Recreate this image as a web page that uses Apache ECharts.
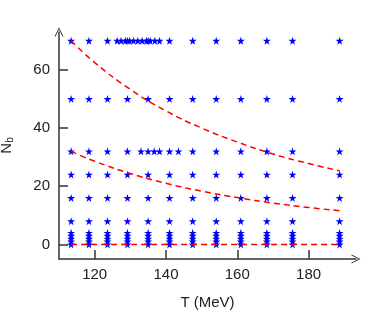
<!DOCTYPE html>
<html>
<head>
<meta charset="utf-8">
<script src="https://cdn.jsdelivr.net/npm/echarts@6/dist/echarts.min.js"></script>
<style>
  html, body { margin: 0; padding: 0; background: #fff; }
  #main { width: 382px; height: 323px; }
</style>
</head>
<body>
<div id="main"></div>
<script>
// temperatures of the regular grid (MeV)
var temps = [113.4, 118.4, 123.6, 129.2, 135.0, 141.0, 147.5, 154.1, 161.0, 168.3, 175.5, 188.7];
// N_b values sampled at every temperature
var nbRows = [0, 1, 2, 3, 4, 8, 16, 24, 32, 50, 70];
// extra fine temperatures at N_b = 70
var denseTempsTop = [126.3, 127.4, 128.6, 129.8, 130.9, 132.1, 133.3, 134.5, 135.6, 136.9, 138.2];
// extra temperatures at N_b = 32
var extraTemps32 = [133.0, 136.7, 138.2, 143.5];

// dashed curves
var curveT = [113.4, 120, 130, 140, 150, 160, 170, 180, 188.7];
var upperCurve = [70, 62.5, 53.3, 45.9, 40.0, 35.2, 31.1, 27.8, 25.3];
var lowerCurve = [32, 28.6, 24.4, 21.0, 18.3, 16.1, 14.2, 12.7, 11.6];
var zeroT = [113.4, 188.7];
var zeroLine = [0, 0];

var xTicks = [120, 140, 160, 180];
var yTicks = [0, 20, 40, 60];

var points = [];
temps.forEach(function (t) {
    nbRows.forEach(function (n) { points.push([t, n]); });
});
denseTempsTop.forEach(function (t) { points.push([t, 70]); });
extraTemps32.forEach(function (t) { points.push([t, 32]); });

function pair(xs, ys) {
    return xs.map(function (x, i) { return [x, ys[i]]; });
}

var star = 'path://M50,0 L61,35 L98,35 L68,57 L79,91 L50,70 L21,91 L32,57 L2,35 L39,35 Z';
var chevron = 'path://M5,0 L0,10 L1.2,10 L5,2 L8.8,10 L10,10 Z';

var dom = document.getElementById('main');
var myChart = echarts.init(dom, null, { renderer: 'canvas' });

var axisColor = '#333';
var labelFont = { color: '#222', fontSize: 15, fontFamily: 'Liberation Sans' };

var dashed = {
    color: '#ff0000',
    width: 1.5,
    type: [6, 4]
};

var option = {
    animation: false,
    backgroundColor: '#fff',
    grid: { left: 59, right: 26, top: 32, bottom: 64, outerBoundsMode: 'none', containLabel: false },
    xAxis: {
        type: 'value',
        min: 110,
        max: 193.3,
        name: 'T (MeV)',
        nameLocation: 'middle',
        nameGap: 36,
        nameTextStyle: labelFont,
        axisLine: {
            show: true,
            onZero: false,
            symbol: ['none', chevron],
            symbolSize: [9, 13],
            lineStyle: { color: axisColor, width: 1.5 }
        },
        axisTick: { show: true, inside: true, length: 9, customValues: xTicks, lineStyle: { color: axisColor, width: 1.5 } },
        axisLabel: Object.assign({ margin: 8, customValues: xTicks }, labelFont),
        splitLine: { show: false }
    },
    yAxis: {
        type: 'value',
        min: -5,
        max: 73,
        name: '{n|N}{s|b}',
        nameLocation: 'middle',
        nameGap: 44,
        nameRotate: 90,
        nameTextStyle: {
            rich: {
                n: { fontSize: 15, color: '#222', fontFamily: 'Liberation Sans' },
                s: { fontSize: 10, color: '#222', fontFamily: 'Liberation Sans', verticalAlign: 'bottom', padding: [6, 0, 0, 0] }
            }
        },
        axisLine: {
            show: true,
            onZero: false,
            symbol: ['none', chevron],
            symbolSize: [9, 13],
            lineStyle: { color: axisColor, width: 1.5 }
        },
        axisTick: { show: true, inside: true, length: 9, customValues: yTicks, lineStyle: { color: axisColor, width: 1.5 } },
        axisLabel: Object.assign({ margin: 9, customValues: yTicks }, labelFont),
        splitLine: { show: false }
    },
    series: [
        {
            type: 'scatter',
            data: points,
            symbol: star,
            symbolSize: 8,
            itemStyle: { color: '#0000ff', opacity: 1 },
            z: 2
        },
        {
            type: 'line',
            data: pair(curveT, upperCurve),
            smooth: true,
            showSymbol: false,
            lineStyle: dashed,
            z: 3
        },
        {
            type: 'line',
            data: pair(curveT, lowerCurve),
            smooth: true,
            showSymbol: false,
            lineStyle: dashed,
            z: 3
        },
        {
            type: 'line',
            data: pair(zeroT, zeroLine),
            showSymbol: false,
            lineStyle: dashed,
            z: 3
        }
    ]
};

myChart.setOption(option);
window.addEventListener('resize', myChart.resize);
</script>
</body>
</html>
